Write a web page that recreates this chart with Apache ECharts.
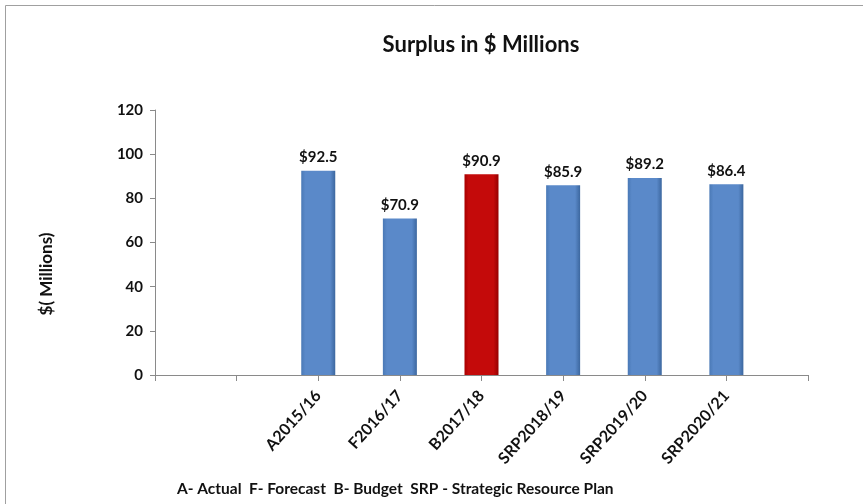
<!DOCTYPE html>
<html><head><meta charset="utf-8">
<script src="https://cdn.jsdelivr.net/npm/echarts@6/dist/echarts.min.js"></script>
<style>html,body{margin:0;padding:0;background:#fff}#c{width:863px;height:504px}</style>
</head><body><div id="c"></div>
<script>
const categories = ['', '', 'A2015/16', 'F2016/17', 'B2017/18', 'SRP2018/19', 'SRP2019/20', 'SRP2020/21', ''];
const surplus = [null, null, 92.5, 70.9, 90.9, 85.9, 89.2, 86.4, null];
const yTicks = [0, 20, 40, 60, 80, 100, 120];
const titleText = 'Surplus in $ Millions';
const yName = '$( Millions)';
const footnote = 'A- Actual  F- Forecast  B- Budget  SRP - Strategic Resource Plan';

const F = 'Lato, "Open Sans", sans-serif';
function grad(edgeL, mid, edgeR) {
  return new echarts.graphic.LinearGradient(0, 0, 1, 0, [
    {offset: 0, color: edgeL}, {offset: 0.12, color: mid},
    {offset: 0.85, color: mid}, {offset: 1, color: edgeR}]);
}
const blue = grad('#4a79b6', '#5a89c9', '#3c679f');
const red = grad('#a80000', '#c40a0a', '#950000');

const data = surplus.map((v, i) => v == null ? null : {
  value: v,
  itemStyle: {color: categories[i].startsWith('B') ? red : blue}
});

const chart = echarts.init(document.getElementById('c'), null, {renderer: 'canvas'});
chart.setOption({
  animation: false,
  backgroundColor: '#fff',
  title: {text: titleText, left: 476, top: 29, textAlign: 'center',
    textStyle: {fontFamily: F, fontWeight: 'bold', fontSize: 22, color: '#111'}},
  graphic: [
    {type: 'rect', shape: {x: 5.5, y: 5.5, width: 870, height: 520},
      style: {fill: 'none', stroke: '#a0a0a0', lineWidth: 1}},
    {type: 'text', x: 47, y: 274, rotation: Math.PI / 2,
      style: {text: yName, fontFamily: F, fontWeight: 'bold', fontSize: 17, fill: '#111',
        align: 'center', verticalAlign: 'middle'}},
    {type: 'text', x: 177, y: 489,
      style: {text: footnote, fontFamily: F, fontWeight: 'bold', fontSize: 15.5, fill: '#111',
        verticalAlign: 'middle'}}
  ],
  grid: {left: 155, right: 55, top: 110, bottom: 129, containLabel: false},
  xAxis: {
    type: 'category', data: categories, boundaryGap: false,
    axisLine: {lineStyle: {color: '#8a8a8a'}},
    axisTick: {show: true, length: 6, lineStyle: {color: '#8a8a8a'}},
    axisLabel: {rotate: 48, margin: 18, interval: 0, fontFamily: F, fontWeight: 'bold', fontSize: 16, color: '#111'}
  },
  yAxis: {
    type: 'value', min: 0, max: 120, interval: 20,
    axisLine: {show: true, lineStyle: {color: '#8a8a8a'}},
    axisTick: {show: true, length: 5, lineStyle: {color: '#8a8a8a'}},
    splitLine: {show: false},
    axisLabel: {margin: 12, fontFamily: F, fontWeight: 'bold', fontSize: 15, color: '#111'}
  },
  series: [{
    type: 'bar', data: data, barWidth: 34,
    label: {show: true, position: 'top', distance: 6, formatter: p => '$' + p.value.toFixed(1),
      fontFamily: F, fontWeight: 'bold', fontSize: 15, color: '#111'}
  }]
});
</script></body></html>
